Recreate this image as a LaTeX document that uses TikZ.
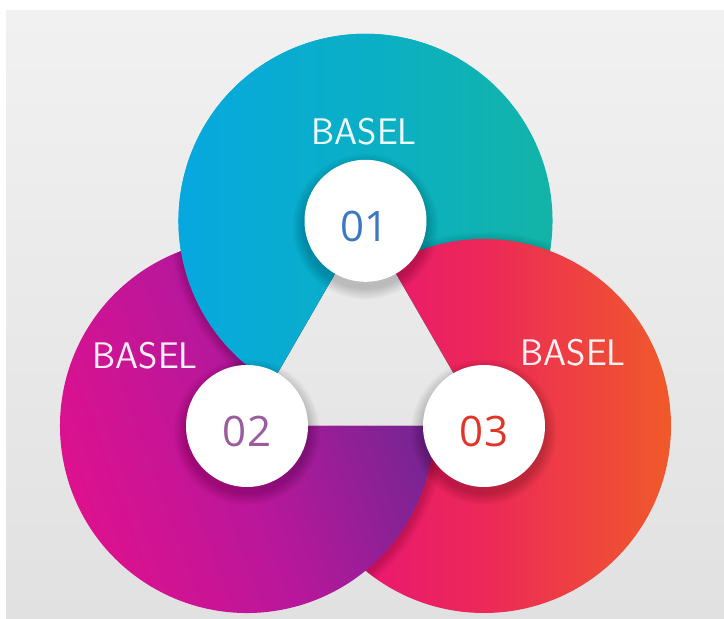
\documentclass[tikz,border=0pt]{standalone}
\usepackage{fontspec}
\newfontfamily\numfont{Open Sans}
\usetikzlibrary{calc}
\definecolor{cyanL}{HTML}{06A7E2}
\definecolor{cyanM}{HTML}{0AAFC6}
\definecolor{cyanR}{HTML}{14B5A2}
\definecolor{pinkL}{HTML}{E8107C}
\definecolor{pinkM}{HTML}{EC2858}
\definecolor{pinkR}{HTML}{F05A2A}
\definecolor{magL}{HTML}{E3108C}
\definecolor{magM}{HTML}{B8179B}
\definecolor{magR}{HTML}{6A2891}
\definecolor{bgT}{HTML}{F1F1F1}
\definecolor{bgB}{HTML}{E1E1E1}
\definecolor{numA}{HTML}{3C78C2}
\definecolor{numB}{HTML}{9B5C9E}
\definecolor{numC}{HTML}{E0362A}
\newcommand\bigshadow[1]{%
  \foreach \k in {1,...,10}{\fill[black,opacity=0.016] ($(#1)+(1,-3)$) circle ({187+11-\k});}}
\newcommand\smallshadow[1]{%
  \foreach \k in {1,...,12}{\fill[black,opacity=0.016] ($(#1)+(0,-6)$) circle ({61+13-\k});}}
\tikzset{
  numcirc/.style={circle,fill=white,minimum size=122pt,inner sep=0pt},
  lbl/.style={anchor=base,text=white,text opacity=0.93,font=\sffamily\fontsize{37}{37}\selectfont},
  numtxt/.style={anchor=base,font=\numfont\fontsize{42}{42}\selectfont},
}
\begin{document}
\begin{tikzpicture}[x=1pt,y=1pt]
\useasboundingbox (0,0) rectangle (724,619);
\fill[white] (0,0) rectangle (724,619);
\shade[top color=bgT,bottom color=bgB] (6,0) rectangle (724,608);
\coordinate (T) at (365.5,398.2);
\coordinate (L) at (247,193);
\coordinate (R) at (484,193);
% top (cyan) pie
\shade[left color=cyanL,right color=cyanR,middle color=cyanM]
  (T) -- ++(300:187) arc[start angle=300,end angle=600,radius=187] -- cycle;
% right (pink) pie over cyan
\begin{scope}
  \clip (T) -- ++(300:187) arc[start angle=300,end angle=600,radius=187] -- cycle;
  \bigshadow{R}
\end{scope}
\shade[left color=pinkL,right color=pinkR,middle color=pinkM]
  (R) -- ++(180:187) arc[start angle=180,end angle=480,radius=187] -- cycle;
% left (magenta) pie over pink
\begin{scope}
  \clip (R) -- ++(180:187) arc[start angle=180,end angle=480,radius=187] -- cycle;
  \bigshadow{L}
\end{scope}
\shade[left color=magL,right color=magR,middle color=magM,shading angle=110]
  (L) -- ++(60:187) arc[start angle=60,end angle=360,radius=187] -- cycle;
% cyan again over magenta (left of line T-L)
\begin{scope}
  \clip ($(T)!-3!(L)$) -- ($(L)!-3!(T)$) -- (-600,-430) -- (-600,1020) -- cycle;
  \begin{scope}
    \clip (L) -- ++(60:187) arc[start angle=60,end angle=360,radius=187] -- cycle;
    \bigshadow{T}
  \end{scope}
  \shade[left color=cyanL,right color=cyanR,middle color=cyanM]
    (T) -- ++(300:187) arc[start angle=300,end angle=600,radius=187] -- cycle;
\end{scope}
% number circles
\smallshadow{T}
\smallshadow{L}
\smallshadow{R}
\node[numcirc] (c1) at (T) {};
\node[numcirc] (c2) at (L) {};
\node[numcirc] (c3) at (R) {};
\node[numtxt,text=numA] (t1) at ($(c1.center)+(-1,-20.5)$) {01};
\node[numtxt,text=numB] (t2) at ($(c2.center)+(0,-20.5)$) {02};
\node[numtxt,text=numC] (t3) at ($(c3.center)+(0,-20.5)$) {03};
% labels
\node[lbl] (b1) at (364,474) {BASEL};
\node[lbl] (b2) at (145,250) {BASEL};
\node[lbl] (b3) at (573,253) {BASEL};
\end{tikzpicture}
\end{document}
